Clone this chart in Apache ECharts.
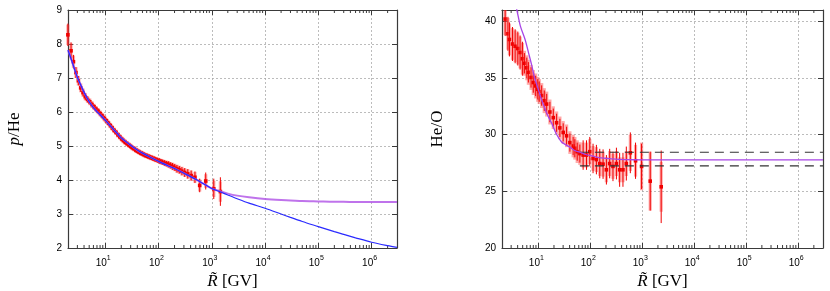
<!DOCTYPE html>
<html><head><meta charset="utf-8">
<script src="https://cdn.jsdelivr.net/npm/echarts@6/dist/echarts.min.js"></script>
<style>html,body{margin:0;padding:0;background:#fff}#c{width:830px;height:291px}</style>
</head><body><div id="c"></div>
<script>
// ---------- left panel: p/He ----------
const pheR = [1.99, 2.28, 2.53, 2.82, 3.13, 3.46, 3.83, 4.22, 4.65, 5.12, 5.63, 6.18, 6.78, 7.42, 8.12, 8.87, 9.68, 10.55, 11.5, 12.5, 13.55, 14.7, 15.95, 17.3, 18.75, 20.3, 21.95, 23.75, 25.7, 27.75, 29.95, 32.3, 34.8, 37.5, 40.4, 43.5, 46.8, 50.35, 54.15, 58.2, 62.55, 67.25, 72.3, 77.7, 83.5, 89.75, 96.5, 104, 112, 120.5, 130, 141, 153.5, 167.5, 183.5, 201.5, 222, 246, 275, 310.5, 354.5, 410, 483, 593, 770, 1090, 1450];
const pheVal = [8.27, 7.80, 7.48, 7.16, 6.92, 6.71, 6.57, 6.45, 6.37, 6.30, 6.22, 6.15, 6.08, 6.02, 5.95, 5.88, 5.81, 5.74, 5.67, 5.60, 5.53, 5.46, 5.40, 5.33, 5.27, 5.21, 5.16, 5.11, 5.07, 5.03, 4.99, 4.95, 4.92, 4.88, 4.85, 4.82, 4.79, 4.77, 4.74, 4.72, 4.70, 4.68, 4.66, 4.64, 4.62, 4.60, 4.58, 4.56, 4.54, 4.52, 4.50, 4.48, 4.46, 4.43, 4.40, 4.37, 4.33, 4.30, 4.26, 4.22, 4.18, 4.13, 4.08, 3.84, 3.97, 3.74, 3.66];
const pheSys = [0.30, 0.22, 0.18, 0.16, 0.14, 0.13, 0.12, 0.11, 0.10, 0.10, 0.10, 0.09, 0.09, 0.09, 0.09, 0.09, 0.09, 0.08, 0.08, 0.08, 0.08, 0.08, 0.08, 0.08, 0.08, 0.08, 0.08, 0.08, 0.08, 0.08, 0.08, 0.08, 0.08, 0.08, 0.08, 0.08, 0.08, 0.08, 0.08, 0.08, 0.08, 0.08, 0.08, 0.08, 0.08, 0.08, 0.08, 0.08, 0.08, 0.08, 0.09, 0.09, 0.10, 0.10, 0.11, 0.11, 0.12, 0.12, 0.13, 0.13, 0.14, 0.15, 0.16, 0.18, 0.20, 0.24, 0.30];
const pheStat = [0.33, 0.25, 0.20, 0.16, 0.14, 0.12, 0.11, 0.10, 0.09, 0.08, 0.08, 0.08, 0.08, 0.08, 0.07, 0.07, 0.07, 0.07, 0.07, 0.07, 0.07, 0.07, 0.07, 0.07, 0.07, 0.07, 0.07, 0.07, 0.07, 0.07, 0.07, 0.07, 0.07, 0.07, 0.07, 0.07, 0.07, 0.07, 0.07, 0.07, 0.07, 0.07, 0.07, 0.07, 0.07, 0.07, 0.07, 0.08, 0.08, 0.08, 0.08, 0.08, 0.09, 0.09, 0.10, 0.10, 0.11, 0.11, 0.12, 0.13, 0.14, 0.15, 0.17, 0.20, 0.25, 0.30, 0.42];
const pheModelR = [2, 2.3, 2.6, 3, 3.5, 4, 5, 6, 7, 8, 10, 13, 17, 20, 30, 40, 50, 70, 100, 150, 200, 300, 500, 700, 1000, 1500, 2000, 3000, 5000, 1e4, 2e4, 3e4, 5e4, 1e5, 2e5, 3e5, 5e5, 1e6, 2e6, 3e6];
const pheBlue = [7.82, 7.55, 7.3, 7.02, 6.78, 6.58, 6.3, 6.13, 6.01, 5.92, 5.76, 5.56, 5.36, 5.24, 5.02, 4.88, 4.79, 4.67, 4.55, 4.42, 4.34, 4.20, 4.02, 3.89, 3.75, 3.64, 3.56, 3.45, 3.32, 3.17, 3.00, 2.90, 2.78, 2.63, 2.48, 2.40, 2.30, 2.17, 2.07, 2.02];
const phePurple = [7.82, 7.55, 7.3, 7.02, 6.78, 6.58, 6.3, 6.13, 6.01, 5.92, 5.76, 5.56, 5.36, 5.24, 5.02, 4.88, 4.79, 4.67, 4.55, 4.42, 4.34, 4.20, 4.02, 3.89, 3.75, 3.66, 3.60, 3.54, 3.49, 3.44, 3.41, 3.40, 3.38, 3.37, 3.36, 3.36, 3.35, 3.35, 3.35, 3.35];
const pheYMin = 2, pheYMax = 9, pheYStep = 1;

// ---------- right panel: He/O ----------
const heoR = [2.30, 2.60, 2.78, 3.18, 3.58, 4.03, 4.46, 4.94, 5.39, 6.00, 6.43, 7.24, 8.00, 8.90, 9.75, 10.4, 11.6, 13.0, 14.5, 16.7, 19.4, 22.5, 26.0, 30.1, 35.0, 40.5, 46.8, 50.5, 56.0, 63.0, 72.8, 84.5, 97.7, 113, 131, 152, 176, 204, 236, 273, 318, 367, 425, 493, 589, 742, 970, 1422, 2311];
const heoVal = [40.2, 38.9, 38.4, 38.0, 37.8, 37.6, 37.25, 36.7, 36.3, 35.9, 35.5, 35.05, 34.6, 34.3, 34.0, 33.8, 33.45, 33.0, 32.7, 32.0, 31.5, 31.05, 30.6, 30.2, 29.9, 29.3, 29.0, 28.8, 28.5, 28.33, 28.2, 28.2, 28.5, 27.9, 27.8, 27.45, 27.4, 26.9, 27.45, 27.2, 27.45, 26.9, 26.9, 27.45, 28.4, 27.7, 27.2, 25.9, 25.4];
const heoSys = [1.4, 1.4, 1.4, 1.4, 1.4, 1.4, 1.4, 1.4, 1.1, 1.1, 1.1, 1.1, 1.1, 1.1, 1.1, 1.1, 1.1, 1.1, 1.1, 1.1, 1.0, 1.0, 1.0, 1.0, 1.0, 1.0, 1.0, 1.0, 1.0, 1.0, 1.1, 1.1, 1.1, 1.1, 1.1, 1.1, 1.1, 1.1, 1.1, 1.1, 1.1, 1.1, 1.1, 1.1, 1.6, 1.4, 2.1, 2.6, 2.2];
const heoStat = [1.5, 1.5, 1.5, 1.5, 1.5, 1.5, 1.5, 1.5, 0.9, 0.9, 0.9, 0.9, 0.9, 0.9, 0.9, 0.9, 0.9, 0.9, 0.9, 0.9, 0.8, 0.8, 0.8, 0.8, 0.8, 0.8, 0.8, 0.8, 0.8, 0.8, 1.3, 1.3, 1.3, 1.3, 1.3, 1.3, 1.3, 1.3, 1.3, 1.3, 1.4, 1.5, 1.5, 1.5, 1.8, 1.6, 2.0, 2.6, 3.2];
const heoModelR = [3.5, 3.86, 4.5, 5.56, 6.5, 7.49, 8.5, 10, 11.5, 13.4, 15.5, 18.1, 22, 28, 34, 40.5, 50, 63, 80, 113, 160, 237, 350, 493, 1000, 1e4, 1e5, 1e6, 3e6];
const heoPurple = [41.7, 41.0, 39.6, 38.4, 37.2, 36.1, 35.0, 34.0, 33.1, 32.3, 31.6, 31.0, 30.1, 29.35, 29.1, 28.9, 28.6, 28.45, 28.25, 28.1, 27.95, 27.88, 27.82, 27.8, 27.78, 27.77, 27.77, 27.77, 27.77];
const heoBandR = [63, 3e6];
const heoBandHi = [28.45, 28.45];
const heoBandLo = [27.25, 27.25];
const heoYMin = 20, heoYMax = 41, heoYStep = 5;

const xMin = 2, xMax = 3e6;
const decades = [1, 10, 100, 1000, 1e4, 1e5, 1e6];
const minorMult = [2, 3, 4, 5, 6, 7, 8, 9];

// ---------- helpers ----------
const zip2 = (a, b) => a.map((v, i) => [v, b[i]]);
const zip4 = (a, b, c, d) => a.map((v, i) => [v, b[i], c[i], d[i]]);
const minorTicks = [];
decades.forEach(d => minorMult.forEach(m => { const v = d * m; if (v > xMin && v < xMax) minorTicks.push(v); }));

const BORDER = '#3a3a3a';
const sansFont = 'Liberation Sans';
const serifFont = 'Liberation Serif';

function logLabel(v) {
  const e = Math.log10(v);
  const r = Math.round(e);
  if (Math.abs(e - r) > 1e-6 || r < 1) return '';
  return '{b|10}{s|' + r + '}{p|}';
}
const xLabelRich = {
  b: { fontSize: 10, fontFamily: sansFont, color: '#000', lineHeight: 13, verticalAlign: 'bottom' },
  s: { fontSize: 7, fontFamily: sansFont, color: '#000', lineHeight: 7, verticalAlign: 'top' },
  p: { width: 4 }
};

function errRender(params, api) {
  const x = api.value(0), y = api.value(1), es = api.value(2), et = api.value(3);
  const c = api.coord([x, y]);
  const s1 = api.coord([x, y + es]), s2 = api.coord([x, y - es]);
  const t1 = api.coord([x, y + et]), t2 = api.coord([x, y - et]);
  return {
    type: 'group', children: [
      { type: 'rect', shape: { x: c[0] - 1.6, y: s1[1], width: 3.2, height: s2[1] - s1[1] }, style: { fill: 'rgba(255,85,85,0.5)' } },
      { type: 'line', shape: { x1: c[0], y1: t1[1], x2: c[0], y2: t2[1] }, style: { stroke: '#f00000', lineWidth: 1 } },
      { type: 'rect', shape: { x: c[0] - 1.8, y: c[1] - 1.8, width: 3.6, height: 3.6 }, style: { fill: '#f00000' } }
    ]
  };
}
function minorRender(params, api) {
  const cs = params.coordSys;
  const x = api.coord([api.value(0), api.value(1)])[0];
  const yb = cs.y + cs.height, yt = cs.y;
  return {
    type: 'group', children: [
      { type: 'line', shape: { x1: x, y1: yb, x2: x, y2: yb - 3 }, style: { stroke: BORDER, lineWidth: 1 } },
      { type: 'line', shape: { x1: x, y1: yt, x2: x, y2: yt + 3 }, style: { stroke: BORDER, lineWidth: 1 } }
    ]
  };
}

function xAxisPair(gi) {
  const base = {
    type: 'log', logBase: 10, min: xMin, max: xMax, gridIndex: gi,
    axisLine: { show: true, onZero: false, lineStyle: { color: BORDER, width: 1.2 } },
    axisTick: { show: true, inside: true, length: 5, lineStyle: { color: BORDER, width: 1 } },
    minorTick: { show: false }
  };
  return [
    Object.assign({}, base, {
      position: 'bottom',
      axisLabel: { margin: 7, formatter: logLabel, rich: xLabelRich, color: '#000' },
      splitLine: { show: true, lineStyle: { color: '#ababab', width: 0.8, type: [2, 2] } },
      name: '{i|R\u0303} [GV]', nameLocation: 'middle', nameGap: 19,
      nameTextStyle: { fontFamily: serifFont, fontSize: 17, color: '#000',
        rich: { i: { fontFamily: serifFont, fontStyle: 'italic', fontSize: 17, color: '#000' } } }
    }),
    Object.assign({}, base, { position: 'top', axisLabel: { show: false }, splitLine: { show: false } })
  ];
}
function yAxisPair(gi, mn, mx, step, name, gap, fmt) {
  const base = {
    type: 'value', min: mn, max: mx, interval: step, gridIndex: gi,
    axisLine: { show: true, onZero: false, lineStyle: { color: BORDER, width: 1.2 } },
    axisTick: { show: true, inside: true, length: 5, lineStyle: { color: BORDER, width: 1 } }
  };
  return [
    Object.assign({}, base, {
      position: 'left',
      axisLabel: { margin: 6, formatter: fmt, fontFamily: sansFont, fontSize: 10, color: '#000' },
      splitLine: { show: true, lineStyle: { color: '#ababab', width: 0.8, type: [2, 2] } },
      name: name, nameLocation: 'middle', nameGap: gap,
      nameTextStyle: { fontFamily: serifFont, fontSize: 17, color: '#000',
        rich: { i: { fontFamily: serifFont, fontStyle: 'italic', fontSize: 17, color: '#000' } } }
    }),
    Object.assign({}, base, { position: 'right', axisLabel: { show: false }, splitLine: { show: false } })
  ];
}

const chart = echarts.init(document.getElementById('c'), null, { renderer: 'canvas' });
chart.setOption({
  animation: false,
  backgroundColor: '#fff',
  grid: [
    { left: 68, top: 10, width: 329, height: 238, containLabel: false, outerBoundsMode: 'none' },
    { left: 502, top: 10, width: 321, height: 238, containLabel: false, outerBoundsMode: 'none' }
  ],
  xAxis: [].concat(xAxisPair(0), xAxisPair(1)),
  yAxis: [].concat(
    yAxisPair(0, pheYMin, pheYMax, pheYStep, '{i|p}/He', 45, v => String(v)),
    yAxisPair(1, heoYMin, heoYMax, heoYStep, 'He/O', 56, v => (v % 5 === 0 ? String(v) : ''))
  ),
  series: [
    { type: 'custom', xAxisIndex: 0, yAxisIndex: 0, silent: true, renderItem: minorRender,
      data: minorTicks.map(v => [v, pheYMin]), z: 1 },
    { type: 'custom', xAxisIndex: 2, yAxisIndex: 2, silent: true, renderItem: minorRender,
      data: minorTicks.map(v => [v, heoYMin]), z: 1 },
    // left
    { type: 'custom', xAxisIndex: 0, yAxisIndex: 0, renderItem: errRender, clip: false,
      data: zip4(pheR, pheVal, pheSys, pheStat), z: 2 },
    { type: 'line', xAxisIndex: 0, yAxisIndex: 0, data: zip2(pheModelR, phePurple), smooth: 0.3,
      showSymbol: false, lineStyle: { color: '#b45ae8', width: 2, opacity: 0.85 }, z: 3 },
    { type: 'line', xAxisIndex: 0, yAxisIndex: 0, data: zip2(pheModelR, pheBlue), smooth: 0.3,
      showSymbol: false, lineStyle: { color: '#2a2aff', width: 1.2 }, z: 4 },
    // right
    { type: 'custom', xAxisIndex: 2, yAxisIndex: 2, renderItem: errRender, clip: true,
      data: zip4(heoR, heoVal, heoSys, heoStat), z: 2 },
    { type: 'line', xAxisIndex: 2, yAxisIndex: 2, data: zip2(heoBandR, heoBandHi),
      showSymbol: false, lineStyle: { color: '#333', width: 1.2, type: [9, 6] }, z: 3 },
    { type: 'line', xAxisIndex: 2, yAxisIndex: 2, data: zip2(heoBandR, heoBandLo),
      showSymbol: false, lineStyle: { color: '#333', width: 1.2, type: [9, 6] }, z: 3 },
    { type: 'line', xAxisIndex: 2, yAxisIndex: 2, data: zip2(heoModelR, heoPurple), smooth: 0.3,
      showSymbol: false, lineStyle: { color: '#a845e6', width: 1.3 }, z: 4 }
  ]
});
</script>
</body></html>
